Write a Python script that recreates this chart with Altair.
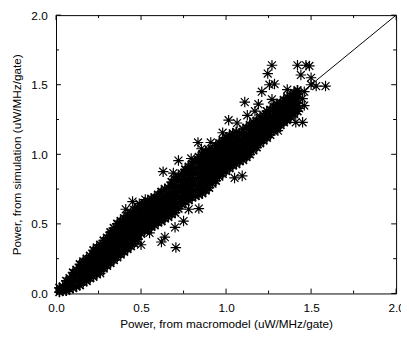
import altair as alt
import pandas as pd

ASTERISK = "M-1,0L1,0M0,-1L0,1M-0.75,-0.75L0.75,0.75M-0.75,0.75L0.75,-0.75"

# dense core of the cloud (columns): macromodel value and the simulated values above it
core_x = [0.02, 0.06, 0.10, 0.14, 0.18, 0.22, 0.26, 0.30, 0.34, 0.38, 0.42, 0.46,
          0.50, 0.54, 0.58, 0.62, 0.66, 0.70, 0.74, 0.78, 0.82, 0.86, 0.90, 0.94,
          0.98, 1.02, 1.06, 1.10, 1.14, 1.18, 1.22, 1.26, 1.30, 1.34, 1.38, 1.42]
core_y = [
    [0.01, 0.04],
    [0.02, 0.05, 0.09],
    [0.04, 0.08, 0.12, 0.15],
    [0.06, 0.10, 0.14, 0.18, 0.21],
    [0.09, 0.13, 0.17, 0.21, 0.25],
    [0.12, 0.16, 0.20, 0.24, 0.28, 0.31],
    [0.16, 0.20, 0.24, 0.28, 0.32, 0.35],
    [0.20, 0.24, 0.28, 0.32, 0.36, 0.40],
    [0.24, 0.28, 0.32, 0.36, 0.40, 0.44, 0.47],
    [0.28, 0.32, 0.36, 0.40, 0.44, 0.48, 0.52],
    [0.32, 0.36, 0.40, 0.44, 0.48, 0.52, 0.56],
    [0.36, 0.40, 0.44, 0.48, 0.52, 0.56, 0.60],
    [0.43, 0.47, 0.51, 0.55, 0.59, 0.63],
    [0.46, 0.50, 0.54, 0.58, 0.62, 0.66],
    [0.49, 0.53, 0.57, 0.61, 0.65, 0.69],
    [0.52, 0.56, 0.60, 0.64, 0.68, 0.73],
    [0.55, 0.59, 0.63, 0.67, 0.71, 0.76],
    [0.58, 0.62, 0.66, 0.70, 0.74, 0.78, 0.82],
    [0.64, 0.68, 0.72, 0.76, 0.80, 0.86],
    [0.67, 0.71, 0.75, 0.79, 0.83, 0.87, 0.91],
    [0.70, 0.74, 0.78, 0.82, 0.86, 0.90, 0.95],
    [0.72, 0.76, 0.80, 0.84, 0.88, 0.92, 0.96, 1.00],
    [0.76, 0.80, 0.84, 0.88, 0.92, 0.96, 1.00, 1.03],
    [0.81, 0.85, 0.89, 0.93, 0.97, 1.01, 1.06],
    [0.86, 0.90, 0.94, 0.98, 1.02, 1.06, 1.10],
    [0.90, 0.94, 0.98, 1.02, 1.06, 1.10, 1.13],
    [0.93, 0.97, 1.01, 1.05, 1.09, 1.12, 1.16],
    [0.96, 1.00, 1.04, 1.08, 1.12, 1.18],
    [1.00, 1.04, 1.08, 1.12, 1.16, 1.21],
    [1.05, 1.09, 1.13, 1.17, 1.21, 1.24],
    [1.10, 1.13, 1.17, 1.21, 1.25, 1.28],
    [1.14, 1.18, 1.22, 1.26, 1.32],
    [1.19, 1.23, 1.27, 1.31, 1.36],
    [1.23, 1.27, 1.31, 1.35, 1.39],
    [1.27, 1.31, 1.35, 1.39, 1.42],
    [1.31, 1.35, 1.39, 1.43, 1.46],
]

# in-between columns of the dense core
fill_x = [0.04, 0.08, 0.12, 0.16, 0.20, 0.24, 0.28, 0.32, 0.36, 0.40, 0.44, 0.48,
          0.52, 0.56, 0.60, 0.64, 0.68, 0.72, 0.76, 0.80, 0.84, 0.88, 0.92, 0.96,
          1.00, 1.04, 1.08, 1.12, 1.16, 1.20, 1.24, 1.28, 1.32, 1.36, 1.40]
fill_y = [
    [0.02, 0.05],
    [0.03, 0.07, 0.11],
    [0.05, 0.09, 0.13, 0.17],
    [0.08, 0.12, 0.16, 0.20, 0.23],
    [0.11, 0.15, 0.19, 0.23, 0.27],
    [0.14, 0.18, 0.22, 0.26, 0.30, 0.33],
    [0.18, 0.22, 0.26, 0.30, 0.34, 0.38],
    [0.22, 0.26, 0.30, 0.34, 0.38, 0.42, 0.44],
    [0.26, 0.30, 0.34, 0.38, 0.42, 0.46, 0.50],
    [0.30, 0.34, 0.38, 0.42, 0.46, 0.50, 0.54],
    [0.34, 0.38, 0.42, 0.46, 0.50, 0.54, 0.58],
    [0.39, 0.42, 0.46, 0.50, 0.54, 0.58, 0.62],
    [0.45, 0.49, 0.53, 0.57, 0.61, 0.65],
    [0.48, 0.52, 0.56, 0.60, 0.64, 0.68],
    [0.51, 0.55, 0.59, 0.63, 0.67, 0.71],
    [0.54, 0.58, 0.62, 0.66, 0.70, 0.75],
    [0.57, 0.61, 0.65, 0.69, 0.73, 0.77, 0.80],
    [0.61, 0.65, 0.69, 0.73, 0.77, 0.81, 0.84],
    [0.66, 0.70, 0.74, 0.78, 0.82, 0.86, 0.89],
    [0.69, 0.73, 0.77, 0.81, 0.85, 0.89, 0.93],
    [0.71, 0.75, 0.79, 0.83, 0.87, 0.91, 0.95, 0.98],
    [0.74, 0.78, 0.82, 0.86, 0.90, 0.94, 0.98, 1.02],
    [0.79, 0.83, 0.87, 0.91, 0.95, 0.99, 1.03],
    [0.84, 0.88, 0.92, 0.96, 1.00, 1.04, 1.08],
    [0.88, 0.92, 0.96, 1.00, 1.04, 1.08, 1.12],
    [0.92, 0.96, 1.00, 1.04, 1.08, 1.11, 1.15],
    [0.95, 0.99, 1.03, 1.07, 1.11, 1.15],
    [0.98, 1.02, 1.06, 1.10, 1.14, 1.19],
    [1.03, 1.07, 1.11, 1.15, 1.19, 1.23],
    [1.08, 1.11, 1.15, 1.19, 1.23, 1.26],
    [1.12, 1.16, 1.20, 1.24, 1.28, 1.31],
    [1.17, 1.21, 1.25, 1.29, 1.34],
    [1.21, 1.25, 1.29, 1.33, 1.37],
    [1.25, 1.29, 1.33, 1.37, 1.41],
    [1.29, 1.33, 1.37, 1.41, 1.44],
]

# scattered stars around the core
out_x = [1.42, 1.47, 1.49, 1.44, 1.50, 1.50, 1.53, 1.585, 1.46, 1.41, 1.45, 1.43, 1.46, 1.41, 1.45,
         1.27, 1.245, 1.255, 1.285, 1.21, 1.11, 1.19, 1.17, 1.125, 1.015, 1.065, 0.98, 1.36, 1.27, 1.315,
         0.835, 0.91, 0.855, 0.72, 0.795, 0.63, 0.69, 1.05, 1.095, 0.78, 0.84, 0.75, 0.70,
         0.45, 0.49, 0.525, 0.41, 0.55, 0.64, 0.62, 0.705, 0.50, 0.26,
         1.355, 1.305]
out_y = [1.64, 1.64, 1.635, 1.57, 1.55, 1.50, 1.49, 1.49, 1.45, 1.43, 1.40, 1.33, 1.35, 1.23, 1.23,
         1.64, 1.58, 1.50, 1.505, 1.45, 1.375, 1.36, 1.31, 1.28, 1.245, 1.225, 1.155, 1.465, 1.395, 1.36,
         1.085, 1.085, 1.04, 0.955, 0.97, 0.875, 0.865, 0.83, 0.845, 0.605, 0.61, 0.52, 0.475,
         0.66, 0.645, 0.675, 0.605, 0.435, 0.405, 0.37, 0.33, 0.35, 0.145,
         1.245, 1.17]

diag_x = [0.0, 2.0]
diag_y = [0.0, 2.0]

major_ticks = [0.0, 0.5, 1.0, 1.5, 2.0]
minor_ticks = [0.25, 0.75, 1.25, 1.75]

core_rows = []
for xs_, ys_ in ((core_x, core_y), (fill_x, fill_y)):
    for x, ys in zip(xs_, ys_):
        for y in ys:
            core_rows.append({"macro": x, "sim": y})
core_df = pd.DataFrame(core_rows)
out_df = pd.DataFrame({"macro": out_x, "sim": out_y})

W, H = 347, 284
sx = alt.Scale(domain=[0, 2], nice=False, zero=False)
sy = alt.Scale(domain=[0, 2], nice=False, zero=False)
FONT = "Liberation Sans"

AX = alt.Axis(
    title="Power, from macromodel (uW/MHz/gate)", values=major_ticks, format=".1f",
    ticks=False, tickSize=0, domain=False, grid=False, labelPadding=9, titlePadding=6,
    labelFlush=False, labelOverlap=False)
AY = alt.Axis(
    title="Power, from simulation (uW/MHz/gate)", values=major_ticks, format=".1f",
    ticks=False, tickSize=0, domain=False, grid=False, labelPadding=9, titlePadding=8,
    labelFlush=False, labelOverlap=False)

diag = alt.Chart(pd.DataFrame({"macro": diag_x, "sim": diag_y})).mark_line(
    color="black", strokeWidth=1
).encode(
    x=alt.X("macro:Q", scale=sx, axis=AX),
    y=alt.Y("sim:Q", scale=sy, axis=AY),
)


def tick_layers(vals, length):
    d = pd.DataFrame({"v": vals})
    base = alt.Chart(d).mark_rule(color="black", strokeWidth=1)
    bottom = base.encode(x=alt.X("v:Q", scale=sx, axis=AX), y=alt.value(H), y2=alt.value(H - length))
    top = base.encode(x=alt.X("v:Q", scale=sx, axis=AX), y=alt.value(0), y2=alt.value(length))
    left = base.encode(y=alt.Y("v:Q", scale=sy, axis=AY), x=alt.value(0), x2=alt.value(length))
    right = base.encode(y=alt.Y("v:Q", scale=sy, axis=AY), x=alt.value(W), x2=alt.value(W - length))
    return [bottom, top, left, right]


core = alt.Chart(core_df).mark_point(
    shape=ASTERISK, filled=False, stroke="black", strokeWidth=1.7, size=115, opacity=1
).encode(
    x=alt.X("macro:Q", scale=sx, axis=AX),
    y=alt.Y("sim:Q", scale=sy, axis=AY),
)

outliers = alt.Chart(out_df).mark_point(
    shape=ASTERISK, filled=False, stroke="black", strokeWidth=1.2, size=115, opacity=1
).encode(
    x=alt.X("macro:Q", scale=sx, axis=AX),
    y=alt.Y("sim:Q", scale=sy, axis=AY),
)

chart = alt.layer(
    diag, *tick_layers(major_ticks, 5), *tick_layers(minor_ticks, 3), outliers, core
).properties(
    width=W, height=H,
    autosize=alt.AutoSizeParams(type="none"),
    padding={"left": 49, "top": 4, "right": 5, "bottom": 34},
).configure_view(
    stroke="black", strokeWidth=1
).configure_axis(
    labelFont=FONT, labelFontSize=12, labelColor="black",
    titleFont=FONT, titleFontSize=12, titleColor="black", titleFontWeight="normal",
)

chart.save("out.html", embed_options={"renderer": "svg", "actions": False})
